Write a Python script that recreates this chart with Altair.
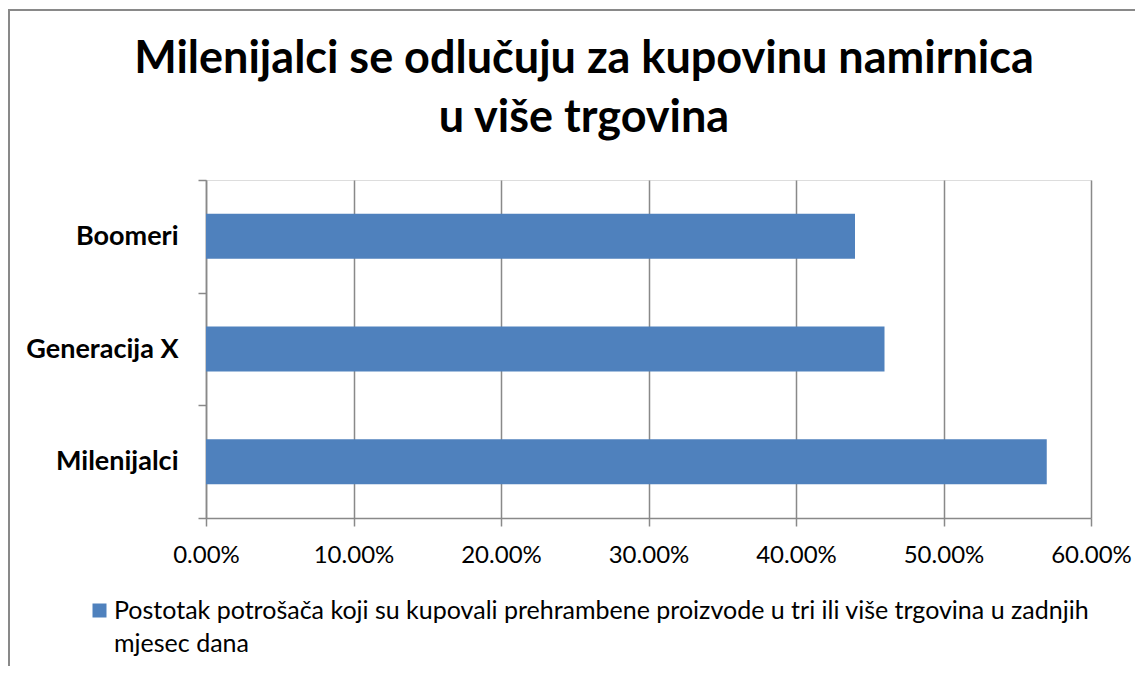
import altair as alt
import pandas as pd

categories = ["Boomeri", "Generacija X", "Milenijalci"]
values = [0.44, 0.46, 0.57]
series_name = "Postotak potrošača koji su kupovali prehrambene proizvode u tri ili više trgovina u zadnjih mjesec dana"
legend_lines = ["Postotak potrošača koji su kupovali prehrambene proizvode u tri ili više trgovina u zadnjih", "mjesec dana"]
x_ticks = [0.0, 0.1, 0.2, 0.3, 0.4, 0.5, 0.6]
title_lines = ["Milenijalci se odlučuju za kupovinu namirnica", "u više trgovina"]

df = pd.DataFrame({"cat": categories, "val": values, "series": [series_name] * 3})

FONT = "Lato"
GRID = "#898989"
BAR = "#4F81BD"

label_expr = "[" + ", ".join("'" + s + "'" for s in legend_lines) + "]"
# square legend symbol, raised so it sits beside the first text line
SYMBOL = "M-1,-2.143H1V-0.143H-1Z"

bars = alt.Chart(df).mark_bar(size=45, color=BAR).encode(
    x=alt.X("val:Q",
            scale=alt.Scale(domain=[0, 0.6], nice=False),
            axis=alt.Axis(format=".2%", values=x_ticks, title=None, grid=True,
                          gridColor=GRID, gridWidth=1.5, domainColor=GRID, domainWidth=1.5,
                          tickColor=GRID, tickWidth=1.5, tickSize=8, labelFlush=False,
                          labelFont=FONT, labelFontSize=24, labelColor="#000000",
                          labelPadding=17)),
    y=alt.Y("cat:N", sort=categories,
            scale=alt.Scale(paddingInner=0, paddingOuter=0),
            axis=alt.Axis(title=None, grid=False, tickBand="extent",
                          domainColor=GRID, domainWidth=1.5,
                          tickColor=GRID, tickWidth=1.5, tickSize=8,
                          labelFont=FONT, labelFontSize=27, labelFontWeight="bold",
                          labelColor="#000000", labelPadding=20)),
    color=alt.Color("series:N", scale=alt.Scale(range=[BAR]),
                    legend=alt.Legend(title=None, orient="none", legendX=-119, legendY=426,
                                      symbolType=SYMBOL, symbolSize=196, symbolStrokeWidth=0,
                                      labelFont=FONT, labelFontSize=25, labelColor="#000000",
                                      labelLimit=0, labelOffset=2, labelExpr=label_expr,
                                      labelBaseline="alphabetic", padding=0)),
)

one = pd.DataFrame({"a": [0]})
frame_top = alt.Chart(one).mark_rule(stroke=GRID, strokeWidth=2).encode(
    x=alt.value(-198), x2=alt.value(1000), y=alt.value(-170)
)
frame_left = alt.Chart(one).mark_rule(stroke=GRID, strokeWidth=2).encode(
    x=alt.value(-197), y=alt.value(-171), y2=alt.value(600)
)

title = alt.Chart(one).mark_text(
    font=FONT, fontSize=45, fontWeight="bold", color="#000000",
    align="center", baseline="alphabetic", lineHeight=59
).encode(
    x=alt.value(378), y=alt.value(-107), text=alt.value(title_lines)
)

chart = alt.layer(frame_top, frame_left, title, bars).properties(
    width=885, height=338,
    autosize=alt.AutoSizeParams(type="none"),
    padding={"left": 198, "top": 172, "right": 44, "bottom": 148},
).configure_view(stroke=None).configure(style={"guide-label": {"lineHeight": 33}})

chart.save("out.html", embed_options={"renderer": "svg", "actions": False})
